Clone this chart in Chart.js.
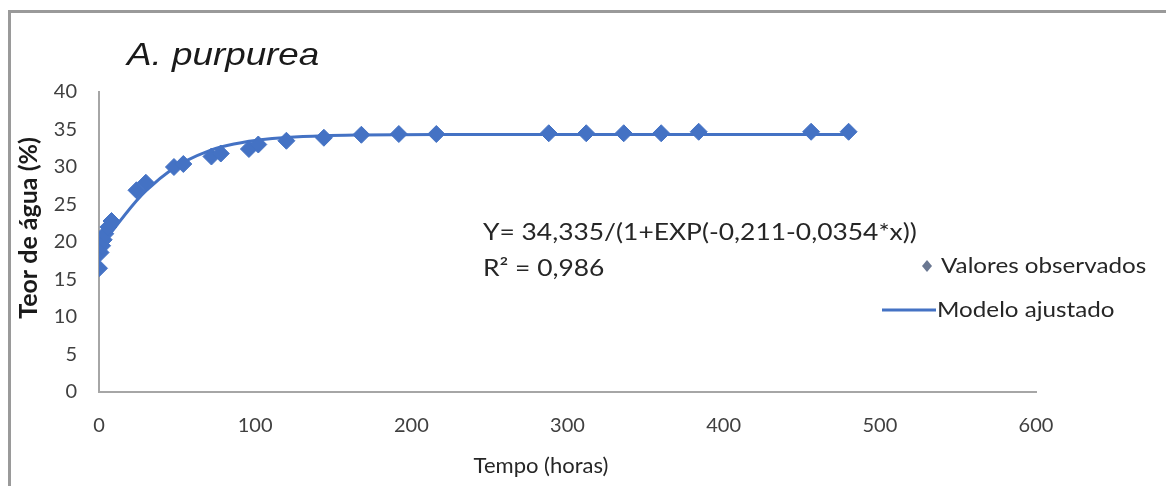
<!DOCTYPE html>
<html>
<head>
<meta charset="utf-8">
<script src="https://cdn.jsdelivr.net/npm/chart.js@4"></script>
<style>
  html, body { margin: 0; padding: 0; background: #fff; }
  #wrap { position: absolute; left: 0; top: 0; width: 1166px; height: 486px; }
  #frame { position: absolute; left: 8px; top: 10px; width: 1170px; height: 490px;
           border-left: 3px solid #9a9a9a; border-top: 3px solid #9a9a9a; box-sizing: border-box; }
</style>
</head>
<body>
<div id="wrap">
  <canvas id="chart" width="1166" height="486"></canvas>
  <div id="frame"></div>
</div>
<script>
// ── dados: tempo de secagem (h) e teor de água (%) ──────────────────────────
const tempo = [0, 1, 2, 3, 4, 6, 8, 24, 30, 48, 54, 72, 78, 96, 102, 120, 144, 168, 192, 216, 288, 312, 336, 360, 384, 456, 480];
const observados = [16.5, 18.6, 19.5, 20.3, 21.1, 22.0, 22.8, 26.9, 27.9, 30.0, 30.4, 31.4, 31.8, 32.4, 33.0, 33.5, 33.9, 34.3, 34.4, 34.4, 34.5, 34.5, 34.5, 34.5, 34.7, 34.7, 34.7];
const ajustado = [18.97, 19.27, 19.57, 19.87, 20.16, 20.75, 21.32, 25.50, 26.82, 29.91, 30.66, 32.29, 32.66, 33.43, 33.60, 33.94, 34.17, 34.26, 34.30, 34.32, 34.33, 34.33, 34.33, 34.33, 34.33, 34.33, 34.33];
const xTicks = [0, 100, 200, 300, 400, 500, 600];
const yTicks = [0, 5, 10, 15, 20, 25, 30, 35, 40];

const FONT = "Lato, 'Open Sans', sans-serif";
const BLUE = "#4472c4";

// texto um pouco alargado na horizontal
function wideText(ctx, txt, x, y, sx) {
  ctx.save();
  ctx.translate(x, y);
  ctx.scale(sx, 1);
  ctx.fillText(txt, 0, 0);
  ctx.restore();
}

// título, títulos dos eixos, equação e legenda
const extras = {
  id: "extras",
  afterDraw(c) {
    const ctx = c.ctx;
    ctx.save();
    ctx.textBaseline = "middle";
    ctx.textAlign = "left";

    ctx.fillStyle = "#1a1a1a";
    ctx.font = "italic 32px 'Liberation Sans', Arial, sans-serif";
    wideText(ctx, "A. purpurea", 127, 56, 1.15);

    // eixos
    ctx.fillStyle = "#262626";
    ctx.font = "22px " + FONT;
    ctx.textAlign = "center";
    ctx.fillText("Tempo (horas)", 541, 466);
    ctx.save();
    ctx.translate(29, 228);
    ctx.rotate(-Math.PI / 2);
    ctx.fillStyle = "#1a1a1a";
    ctx.font = "bold 25px " + FONT;
    ctx.fillText("Teor de água (%)", 0, 0);
    ctx.restore();
    ctx.textAlign = "left";

    // equação do modelo
    ctx.font = "24px " + FONT;
    wideText(ctx, "Y= 34,335/(1+EXP(-0,211-0,0354*x))", 483, 232, 1.1);
    wideText(ctx, "R² = 0,986", 483, 268, 1.1);

    // legenda
    ctx.font = "22px " + FONT;
    ctx.fillStyle = "#6a7791";
    ctx.beginPath();
    ctx.moveTo(927, 260); ctx.lineTo(932, 266); ctx.lineTo(927, 272); ctx.lineTo(922, 266);
    ctx.closePath(); ctx.fill();
    ctx.fillStyle = "#262626";
    wideText(ctx, "Valores observados", 941, 266, 1.1);
    ctx.strokeStyle = BLUE; ctx.lineWidth = 3;
    ctx.beginPath(); ctx.moveTo(882, 310); ctx.lineTo(936, 310); ctx.stroke();
    wideText(ctx, "Modelo ajustado", 937, 310, 1.1);
    ctx.restore();
  }
};

new Chart(document.getElementById("chart").getContext("2d"), {
  type: "scatter",
  data: {
    datasets: [
      { label: "Valores observados", data: tempo.map((t, i) => ({ x: t, y: observados[i] })),
        pointStyle: "rectRot", pointRadius: 8.5, pointBackgroundColor: BLUE, pointBorderColor: BLUE,
        showLine: false, order: 1 },
      { label: "Modelo ajustado", data: tempo.map((t, i) => ({ x: t, y: ajustado[i] })),
        showLine: true, borderColor: BLUE, borderWidth: 3, pointRadius: 0,
        cubicInterpolationMode: "monotone", order: 2 },
    ],
  },
  options: {
    responsive: false, animation: false, events: [],
    layout: { padding: { left: 10, top: 92, right: 130, bottom: 0 } },
    plugins: { legend: { display: false }, tooltip: { enabled: false } },
    scales: {
      x: {
        type: "linear", min: 0, max: 600,
        afterBuildTicks: s => { s.ticks = xTicks.map(v => ({ value: v })); },
        afterFit: s => { s.height = 94; },
        border: { color: "#a6a6a6", width: 2 },
        grid: { display: false, drawTicks: false },
        ticks: { padding: 22, color: "#404040", font: { family: FONT, size: 20 } },
      },
      y: {
        type: "linear", min: 0, max: 40,
        afterBuildTicks: s => { s.ticks = yTicks.map(v => ({ value: v })); },
        afterFit: s => { s.width = 89; },
        border: { color: "#a6a6a6", width: 2 },
        grid: { display: false, drawTicks: false },
        ticks: { padding: 22, color: "#404040", font: { family: FONT, size: 20 } },
      },
    },
  },
  plugins: [extras],
});
</script>
</body>
</html>
